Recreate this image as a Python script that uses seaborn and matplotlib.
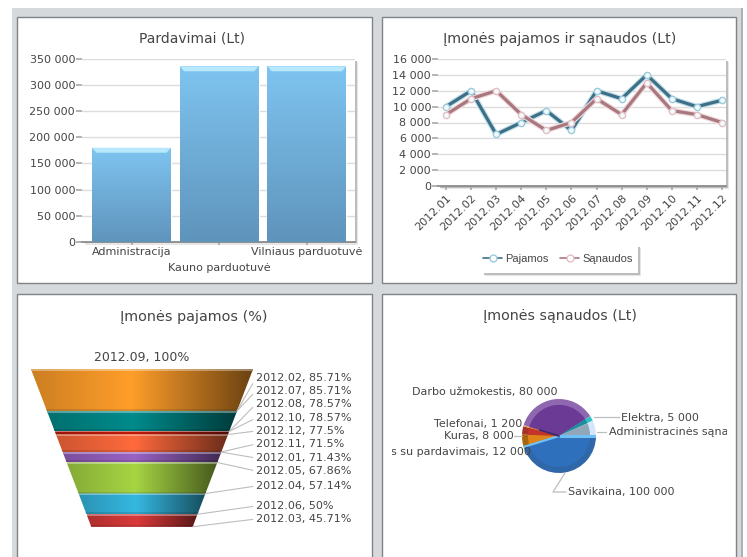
import numpy as np
import pandas as pd
import seaborn as sns
import matplotlib.pyplot as plt
from matplotlib.colors import to_rgb
from matplotlib.lines import Line2D
from matplotlib.patches import Rectangle, Polygon

# duomenys
bar_labels = ["Administracija", "Kauno parduotuvė", "Vilniaus parduotuvė"]
bar_values = [180000, 336000, 336000]

months = ["2012.01", "2012.02", "2012.03", "2012.04", "2012.05", "2012.06",
          "2012.07", "2012.08", "2012.09", "2012.10", "2012.11", "2012.12"]
pajamos = [10000, 12000, 6500, 8000, 9500, 7000, 12000, 11000, 14000, 11000, 10000, 10800]
sanaudos = [9000, 11000, 12000, 9000, 7000, 8000, 11000, 9000, 13000, 9500, 9000, 8000]

funnel_names = ["2012.09", "2012.02", "2012.07", "2012.08", "2012.10", "2012.12",
                "2012.11", "2012.01", "2012.05", "2012.04", "2012.06", "2012.03"]
funnel_values = [100, 85.71, 85.71, 78.57, 78.57, 77.5, 71.5, 71.43, 67.86, 57.14, 50, 45.71]

pie_names = ["Savikaina", "Sąnaudos su pardavimais", "Kuras", "Telefonai",
             "Darbo užmokestis", "Elektra", "Administracinės sąnaudos"]
pie_values = [100000, 12000, 8000, 1200, 80000, 5000, 15000]

sns.set_theme(style="white")
plt.rcParams["font.family"] = ["DejaVu Sans"]

W, H = 747, 557
TXT = "#454545"
fig = plt.figure(figsize=(W / 100, H / 100), dpi=100, facecolor="white")


def ax_px(l, t, r, b, z=2):
    return fig.add_axes([l / W, 1 - b / H, (r - l) / W, (b - t) / H], zorder=z)


def fmt(v):
    return f"{v:,}".replace(",", " ")


# fonas ir skydeliai pikseliais
bg = fig.add_axes([0, 0, 1, 1], zorder=0)
bg.axis("off")
bg.add_patch(Rectangle((12, 8), 730, 549, fc="#D6D9DC", ec="none"))
bg.imshow(np.linspace(0.78, 0.87, 12)[:, None], extent=(12, 742, 17, 8), cmap="gray",
          vmin=0, vmax=1, aspect="auto", interpolation="bilinear")
bg.add_patch(Rectangle((741, 8), 2, 549, fc="#AEB2B6", ec="none"))
bg.set_xlim(0, W)
bg.set_ylim(H, 0)
for x0, y0, x1, y1 in [(17, 17, 372, 283), (382, 17, 736, 283), (17, 294, 372, 570), (382, 294, 736, 570)]:
    bg.add_patch(Rectangle((x0, y0), x1 - x0, y1 - y0, fc="white", ec="#7F8386", lw=1))
# braizymo sriciu seseliai
for x0, y0, x1, y1 in [(82, 59, 355, 241.7), (438, 59, 726, 186), (482, 245, 638, 273)]:
    bg.add_patch(Rectangle((x0 + 3, y0 + 3), x1 - x0, y1 - y0, fc="#E6E6E6", ec="none"))
    bg.add_patch(Rectangle((x0 + 1.5, y0 + 1.5), x1 - x0, y1 - y0, fc="#BDBDBD", ec="none"))
    bg.add_patch(Rectangle((x0, y0), x1 - x0, y1 - y0, fc="white", ec="none"))

# tekstu sluoksnis
top = fig.add_axes([0, 0, 1, 1], zorder=5)
top.axis("off")
top.patch.set_alpha(0)

for txt, cx, cy, fs in [("Pardavimai (Lt)", 192, 38, 10), ("Įmonės pajamos ir sąnaudos (Lt)", 560, 39, 10.3),
                        ("Įmonės pajamos (%)", 194, 317, 10.4), ("Įmonės sąnaudos (Lt)", 560, 316, 10.3)]:
    top.text(cx, cy, txt, ha="center", va="center", fontsize=fs, color=TXT)

# stulpeliai
ax1 = ax_px(82, 59, 355, 241.7)
ax1.patch.set_alpha(0)
sns.barplot(x=bar_labels, y=bar_values, width=0.9, color="#7DC3EE", ax=ax1)
c_top, c_bot = np.array(to_rgb("#7EC4F0")), np.array(to_rgb("#5F94BC"))
grad = c_top + np.linspace(0, 1, 64)[:, None, None] * (c_bot - c_top)
cap = 9500
for p in list(ax1.patches):
    x0, w, h = p.get_x(), p.get_width(), p.get_height()
    p.set_facecolor("none")
    im = ax1.imshow(grad, extent=(x0, x0 + w, 0, h), aspect="auto", zorder=3, interpolation="bilinear")
    im.set_clip_path(Rectangle((x0, 0), w, h, transform=ax1.transData))
    ax1.add_patch(Polygon([(x0, h), (x0 + w, h), (x0 + w - 0.05, h - cap), (x0 + 0.05, h - cap)],
                          fc="#B7E8FB", ec="none", zorder=4))
ax1.set_xlim(-0.565, 2.55)
ax1.set_ylim(0, 350000)
ax1.set_yticks(range(0, 350001, 50000))
ax1.set_yticklabels([fmt(v) for v in range(0, 350001, 50000)])
ax1.yaxis.grid(True, color="#DCDCDC", lw=1)
ax1.set_axisbelow(True)
sns.despine(ax=ax1, left=True)
ax1.spines["bottom"].set_color("#8A8A8A")
ax1.tick_params(axis="y", length=4, color="#AAAAAA", labelsize=8, labelcolor=TXT, pad=1, left=True)
ax1.tick_params(axis="x", length=2, color="#AAAAAA", labelsize=8, labelcolor=TXT, bottom=True)
for i, t in enumerate(ax1.xaxis.get_major_ticks()):
    t.set_pad(13 if i == 1 else 2)

# linijos
ax2 = ax_px(438, 59, 726, 186)
ax2.patch.set_alpha(0)
df = pd.DataFrame({"men": months * 2, "lt": pajamos + sanaudos,
                   "serija": ["Pajamos"] * 12 + ["Sąnaudos"] * 12})
line_colors = ["#3F6F86", "#A8787F"]
halos = ["#BFE0EA", "#F2D8DC"]
edges = ["#9CCBDD", "#E3BFC5"]
sns.lineplot(data=df, x="men", y="lt", hue="serija", palette=line_colors, sort=False,
             lw=2.3, marker="o", markersize=4.5, markerfacecolor="#F2FAFC", markeredgewidth=1,
             errorbar=None, legend=False, ax=ax2)
for i, line in enumerate(list(ax2.get_lines())):
    line.set_markeredgecolor(edges[i])
    line.set_clip_on(False)
    line.set_zorder(4 + i)
    ax2.plot(line.get_xdata(), line.get_ydata(), color=halos[i], lw=4, zorder=3.5 + i, clip_on=False)
ax2.set_xlim(-0.32, 11.16)
ax2.set_ylim(0, 16000)
ax2.set_yticks(range(0, 16001, 2000))
ax2.set_yticklabels([fmt(v) for v in range(0, 16001, 2000)])
ax2.set_xlabel("")
ax2.set_ylabel("")
ax2.yaxis.grid(True, color="#DCDCDC", lw=1)
ax2.set_axisbelow(True)
sns.despine(ax=ax2, left=True)
ax2.spines["bottom"].set_color("#8A8A8A")
ax2.tick_params(axis="y", length=4, color="#AAAAAA", labelsize=8, labelcolor=TXT, pad=1, left=True)
ax2.tick_params(axis="x", length=3, color="#AAAAAA", labelsize=8, labelcolor=TXT, pad=2, bottom=True)
plt.setp(ax2.get_xticklabels(), rotation=45, ha="right", rotation_mode="anchor")

handles = [Line2D([], [], color=c, lw=1.2, marker="o", markersize=5, markerfacecolor="white",
                  markeredgecolor=e, markeredgewidth=1) for c, e in zip(line_colors, edges)]
top.set_xlim(0, W)
top.set_ylim(H, 0)
leg = top.legend(handles, ["Pajamos", "Sąnaudos"], loc="center", bbox_to_anchor=(558, 259),
                 bbox_transform=top.transData, ncol=2, frameon=False, handlelength=1.7,
                 handletextpad=0.3, columnspacing=1.0, prop={"family": "Liberation Sans", "size": 8})
for t in leg.get_texts():
    t.set_color(TXT)

# piltuvas: juostu ribos yra patys procentai
ax3 = ax_px(31, 369.3, 253, 526.7)
ax3.axis("off")
band_colors = ["#FF9E2A", "#008B8B", "#008B8B", "#C01A0C", "#C01A0C", "#FF6A3D",
               "#C9B9C9", "#9A62C4", "#A6D544", "#35B8E0", "#D93A3A"]
prof = np.interp(np.linspace(0, 1, 128), [0, 0.45, 1], [0.8, 1.0, 0.42])[None, :, None]
px = 54.29 / 157.4
for vt, vb, c in zip(funnel_values[:-1], funnel_values[1:], band_colors):
    if vt == vb:
        continue
    poly = Polygon([(-vt, vt), (vt, vt), (vb, vb), (-vb, vb)], transform=ax3.transData, fc="none", ec="none")
    ax3.add_patch(poly)
    img = np.clip(prof * np.array(to_rgb(c)), 0, 1)
    im = ax3.imshow(img, extent=(-vt, vt, vb, vt), aspect="auto", interpolation="bilinear", zorder=2)
    im.set_clip_path(poly)
    if vt - vb < 2:
        continue
    rim = 1.8 * px
    lite = np.clip(img + (1 - img) * 0.35, 0, 1)
    dark = img * 0.88
    for arr, a, b in [(lite, vt, vt - rim), (dark, vb + rim, vb)]:
        im2 = ax3.imshow(arr, extent=(-vt, vt, b, a), aspect="auto", interpolation="bilinear", zorder=3)
        im2.set_clip_path(poly)
ax3.set_xlim(-100, 100)
ax3.set_ylim(45.71, 100)

top.text(142, 357, f"{funnel_names[0]}, {funnel_values[0]}%", ha="center", va="center", fontsize=9, color=TXT)
funnel_y = [378, 391, 404, 418, 431, 444, 458, 471, 486, 506, 519]
for name, v, y in zip(funnel_names[1:], funnel_values[1:], funnel_y):
    top.annotate(f"{name}, {v:g}%", xy=(v, v), xycoords=ax3.transData, xytext=(256, y), textcoords="data",
                 ha="left", va="center", fontsize=8, color=TXT, annotation_clip=False,
                 arrowprops=dict(arrowstyle="-", color="#BDBDBD", lw=0.8, shrinkA=0, shrinkB=0, relpos=(0, 0.5)))

# skritulys
ax4 = ax_px(522, 399, 596, 473)
ax4.patch.set_alpha(0)
rim_colors = ["#2F67A9", "#A9640F", "#A83225", "#E5A060", "#8F66B0", "#30BFC4", "#D3E6FA"]
face_colors = ["#2E70BC", "#DF8418", "#C4342A", "#CC7733", "#6A3A94", "#1B8E9C", "#8FA7B9"]
ax4.pie(pie_values, colors=rim_colors, startangle=0, counterclock=False, radius=1,
        wedgeprops=dict(linewidth=0))
ax4.pie(pie_values, colors=face_colors, startangle=0, counterclock=False, radius=0.84,
        wedgeprops=dict(linewidth=0))
ax4.set_xlim(-1, 1)
ax4.set_ylim(-1, 1)
ends = np.cumsum(pie_values) / sum(pie_values) * 2 * np.pi
for ang, lw in [(0, 2.2), (ends[0], 1.6)]:
    ax4.plot([0, np.cos(-ang)], [0, np.sin(-ang)], color="#6FC0F5", lw=lw, solid_capstyle="butt")
ax4.plot([0, np.cos(-ends[3]) * 0.55], [0, np.sin(-ends[3]) * 0.55], color="#3A2A66", lw=1.2)

clip = Rectangle((392, 300), 335, 230, transform=top.transData)
pie_pos = [(568, 492, "left"), (531, 452, "right"), (514, 436.5, "right"), (522, 423.5, "right"),
           (558, 392.5, "right"), (621, 418, "left"), (609, 432, "left")]
for name, v, (x, y, ha) in zip(pie_names, pie_values, pie_pos):
    t = top.text(x, y, f"{name}, {fmt(v)}", ha=ha, va="center", fontsize=8, color=TXT)
    t.set_clip_path(clip)
    t.set_clip_on(True)
top.plot([594, 619], [417, 417], color="#BDBDBD", lw=0.9)
top.plot([597, 606], [432, 432], color="#BDBDBD", lw=0.9)
top.plot([514, 522], [436, 436], color="#BDBDBD", lw=0.9)
top.plot([565, 553, 566], [473, 492, 492], color="#BDBDBD", lw=0.9)
top.set_xlim(0, W)
top.set_ylim(H, 0)

fig.savefig("out.png", dpi=100)
